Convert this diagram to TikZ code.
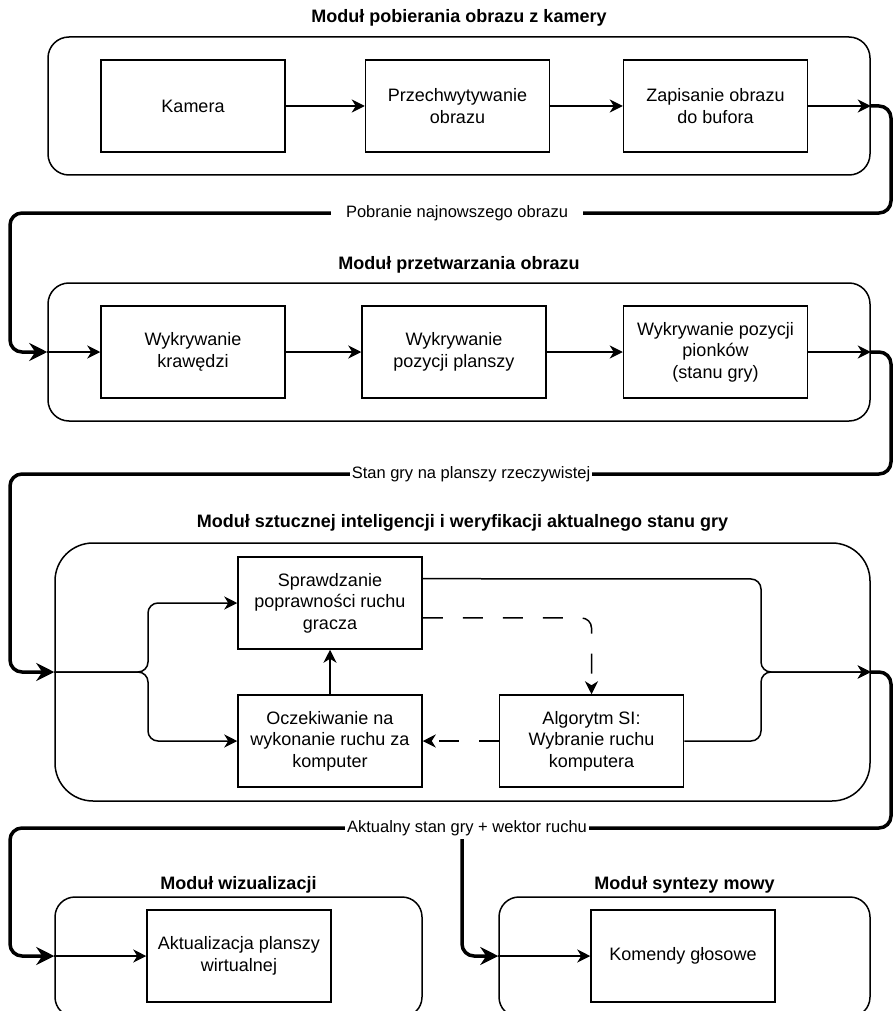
\documentclass[tikz,border=0pt]{standalone}
\usepackage{fontspec}
\setmainfont{Liberation Sans}
\usetikzlibrary{arrows.meta,calc}

\tikzset{
  boxtext/.style={font=\fontsize{18}{21.6}\selectfont},
  stepbox/.style={draw, line width=1.5pt, minimum width=184pt, minimum height=92pt,
    align=center, inner sep=2pt, boxtext},
  modbox/.style={draw, line width=1.5pt, rounded corners=#1, inner sep=0pt},
  modbox/.default=21pt,
  modtitle/.style={font=\fontsize{18}{21.6}\selectfont\bfseries, inner sep=1pt},
  flow/.style={line width=1.5pt, -{Stealth[length=13pt,width=13pt,inset=4pt]}},
  dashedflow/.style={flow, dash pattern=on 20pt off 20pt},
  bus/.style={line width=3.5pt, rounded corners=12pt,
    -{Stealth[length=18pt,width=18pt,inset=6pt]}},
  buslabel/.style={fill=white, font=\fontsize{16.5}{19.8}\selectfont, inner ysep=3pt},
}

\begin{document}
\begin{tikzpicture}[x=1pt,y=-1pt]
\useasboundingbox (0,0) rectangle (893,1011);
\clip (0,0) rectangle (893,1011);

% ---- module frames and titles ----
\node[modbox, minimum width=822pt, minimum height=138pt] (m1) at (459,106) {};
\node[modbox, minimum width=822pt, minimum height=138pt] (m2) at (459,352) {};
\node[modbox=38pt, minimum width=815pt, minimum height=258pt] (m3) at (462.5,672) {};
\node[modbox=20pt, minimum width=367pt, minimum height=120pt] (m4) at (238.5,957) {};
\node[modbox=20pt, minimum width=371pt, minimum height=120pt] (m5) at (684.5,957) {};

\node[modtitle] (t1) at (459,18) {Moduł pobierania obrazu z kamery};
\node[modtitle] (t2) at (459,265) {Moduł przetwarzania obrazu};
\node[modtitle] (t3) at (462.5,523) {Moduł sztucznej inteligencji i weryfikacji aktualnego stanu gry};
\node[modtitle] (t4) at (238.5,885) {Moduł wizualizacji};
\node[modtitle] (t5) at (684.5,885) {Moduł syntezy mowy};

% ---- processing steps ----
\node[stepbox] (k)  at (193,106)   {Kamera};
\node[stepbox] (p)  at (457.5,106) {Przechwytywanie\\obrazu};
\node[stepbox] (z)  at (715.5,106) {Zapisanie obrazu\\do bufora};

\node[stepbox] (w1) at (193,352)   {Wykrywanie\\krawędzi};
\node[stepbox] (w2) at (454,352)   {Wykrywanie\\pozycji planszy};
\node[stepbox] (w3) at (715.5,352) {Wykrywanie pozycji\\pionków\\(stanu gry)};

\node[stepbox] (s)  at (330,603)   {Sprawdzanie\\poprawności ruchu\\gracza};
\node[stepbox] (o)  at (330,741)   {Oczekiwanie na\\wykonanie ruchu za\\komputer};
\node[stepbox] (a)  at (591.5,741) {Algorytm SI:\\Wybranie ruchu\\komputera};

\node[stepbox] (v)  at (239,956)   {Aktualizacja planszy\\wirtualnej};
\node[stepbox] (g)  at (683,956)   {Komendy głosowe};

% ---- connection points ----
\coordinate (sA) at ($(s.north east)!0.24!(s.south east)$);
\coordinate (sB) at ($(s.north east)!0.66!(s.south east)$);
\coordinate (in4) at (m4.west |- v.west);
\coordinate (in5) at (m5.west |- g.west);
\coordinate (fork) at (462,828);

% ---- flows inside modules ----
\draw[flow] (k.east) -- (p.west);
\draw[flow] (p.east) -- (z.west);
\draw[flow] (z.east) -- (m1.east);

\draw[flow] (m2.west) -- (w1.west);
\draw[flow] (w1.east) -- (w2.west);
\draw[flow] (w2.east) -- (w3.west);
\draw[flow] (w3.east) -- (m2.east);

\draw[flow, rounded corners=10pt] (m3.west) -- (148,672) -- (148,603) -- (s.west);
\draw[flow, rounded corners=10pt] (m3.west) -- (148,672) -- (148,741) -- (o.west);
\draw[flow, rounded corners=10pt] (sA) -- (761,579) -- (761,672) -- (m3.east);
\draw[flow, rounded corners=10pt] (a.east) -- (761,741) -- (761,672) -- (m3.east);
\draw[dashedflow, rounded corners=10pt] (sB) -- (a.north |- sB) -- (a.north);
\draw[dashedflow] (a.west) -- (o.east);
\draw[flow] (o.north) -- (s.south);

\draw[flow] (in4) -- (v.west);
\draw[flow] (in5) -- (g.west);

% ---- data buses between modules ----
\draw[bus] (m1.east) -- (891,106) -- (891,213) -- (10,213) -- (10,352) -- (m2.west);
\draw[bus] (m2.east) -- (891,352) -- (891,474) -- (10,474) -- (10,672) -- (m3.west);
\draw[bus] (m3.east) -- (891,672) -- (891,828) -- (10,828) -- (10,956) -- (in4);
\draw[bus] (fork) -- (462,956) -- (in5);

\node[buslabel, inner xsep=15pt] (l1) at (457,213) {Pobranie najnowszego obrazu};
\node[buslabel, inner xsep=2pt] (l2) at (471,474) {Stan gry na planszy rzeczywistej};
\node[buslabel, inner xsep=2pt] (l3) at (467,828) {Aktualny stan gry + wektor ruchu};
\end{tikzpicture}
\end{document}
